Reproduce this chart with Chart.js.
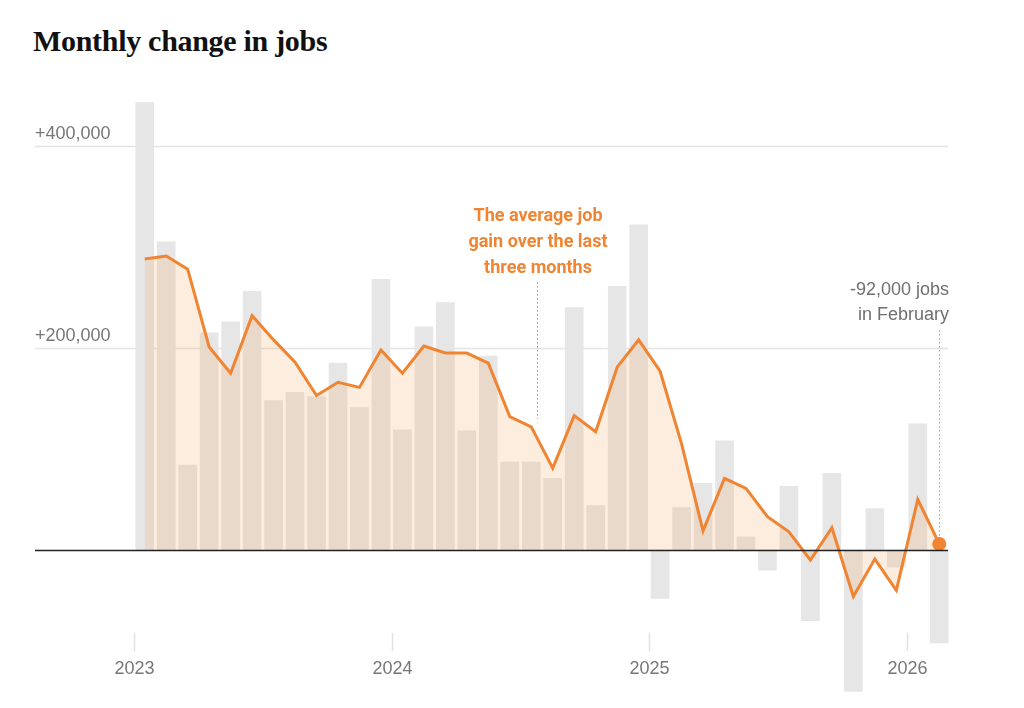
<!DOCTYPE html>
<html><head><meta charset="utf-8">
<script src="https://cdn.jsdelivr.net/npm/chart.js@4"></script>
<style>
html,body{margin:0;padding:0;background:#fff;}
#wrap{position:relative;width:1024px;height:708px;}
#title{position:absolute;left:33px;top:24px;font:bold 30px "Liberation Serif",serif;color:#111;letter-spacing:-0.3px;}
canvas{position:absolute;left:0;top:0;}
</style></head><body>
<div id="wrap"><div id="title">Monthly change in jobs</div><canvas id="c" width="1024" height="708"></canvas></div>
<script>
const months = ["Jan 2023","Feb 2023","Mar 2023","Apr 2023","May 2023","Jun 2023","Jul 2023","Aug 2023","Sep 2023","Oct 2023","Nov 2023","Dec 2023",
"Jan 2024","Feb 2024","Mar 2024","Apr 2024","May 2024","Jun 2024","Jul 2024","Aug 2024","Sep 2024","Oct 2024","Nov 2024","Dec 2024",
"Jan 2025","Feb 2025","Mar 2025","Apr 2025","May 2025","Jun 2025","Jul 2025","Aug 2025","Sep 2025","Oct 2025","Nov 2025","Dec 2025",
"Jan 2026","Feb 2026"];
const monthlyChange = [443000,305000,84000,215000,226000,256000,148000,156000,152000,185000,141000,268000,
119000,221000,245000,118000,192000,87000,87000,71000,240000,44000,261000,322000,
-48000,42000,66000,108000,13000,-20000,63000,-70000,76000,-140000,41000,-17000,125000,-92000];
const threeMonthAvg = [288000,291000,278000,201000,175000,232000,208000,186000,153000,166000,161000,198000,
175000,202000,195000,195000,185000,132000,122000,81000,133000,117000,181000,208000,
177000,105000,19000,71000,61000,33000,18000,-10000,22000,-46000,-9000,-40000,50000,6000];
const yTicks = [200000,400000];
const yTickLabels = ["+200,000","+400,000"];
const xTickPos = [-0.5,11.5,23.5,35.5];
const xTickLabels = ["2023","2024","2025","2026"];

const deco = {
  id:'deco',
  beforeDatasetsDraw(ch){
    const c=ch.ctx, y=ch.scales.y, x=ch.scales.x;
    c.save();
    c.strokeStyle='#e4e4e4'; c.lineWidth=1.5;
    yTicks.forEach((v,i)=>{const p=Math.round(y.getPixelForValue(v))+0.5;
      c.beginPath();c.moveTo(35,p);c.lineTo(948,p);c.stroke();
      c.fillStyle='#777';c.font='18px "Liberation Sans",Arial';c.textAlign='left';c.textBaseline='alphabetic';
      c.fillText(yTickLabels[i],35,p-8);});
    xTickPos.forEach((v,i)=>{const p=Math.round(x.getPixelForValue(v))+0.5;
      c.strokeStyle='#e0e0e0';c.beginPath();c.moveTo(p,633);c.lineTo(p,651);c.stroke();
      c.fillStyle='#777';c.font='18px "Liberation Sans",Arial';c.textAlign='center';
      c.fillText(xTickLabels[i],p,674);});
    c.restore();
  },
  afterDatasetsDraw(ch){
    const c=ch.ctx, y=ch.scales.y, x=ch.scales.x;
    c.save();
    const z=Math.round(y.getPixelForValue(0))+0.5;
    c.strokeStyle='#222';c.lineWidth=1.3;c.beginPath();c.moveTo(35,z);c.lineTo(948,z);c.stroke();
    c.setLineDash([1.5,2.5]);c.strokeStyle='#999';c.lineWidth=1;
    const ax=Math.round(x.getPixelForValue(18.25))+0.5;
    c.beginPath();c.moveTo(ax,282);c.lineTo(ax,y.getPixelForValue(threeMonthAvg[18])-8);c.stroke();
    const bx=Math.round(x.getPixelForValue(37))+0.5;
    c.beginPath();c.moveTo(bx,330);c.lineTo(bx,y.getPixelForValue(threeMonthAvg[37])-8);c.stroke();
    c.setLineDash([]);
    c.fillStyle='#ef8532';c.font='bold 18px "Roboto","Liberation Sans",Arial';c.textAlign='center';
    ["The average job","gain over the last","three months"].forEach((t,i)=>c.fillText(t,538,221+i*26));
    c.fillStyle='#6f6f6f';c.font='18px "Liberation Sans",Arial';c.textAlign='right';
    c.fillText("-92,000 jobs",949,295);c.fillText("in February",949,320);
    c.restore();
  }
};

new Chart(document.getElementById('c'),{
  data:{datasets:[
    {type:'bar',data:monthlyChange.map((v,i)=>({x:i,y:v})),backgroundColor:'#e6e6e6',barThickness:18,order:2},
    {type:'line',data:threeMonthAvg.map((v,i)=>({x:i,y:v})),borderColor:'#ef8532',borderWidth:3,
     fill:'origin',backgroundColor:'rgba(246,165,90,0.2)',tension:0,order:1,
     pointRadius:threeMonthAvg.map((v,i)=>i===threeMonthAvg.length-1?7:0),
     pointBackgroundColor:'#ef8532',pointBorderWidth:0}
  ]},
  options:{responsive:false,animation:false,
    layout:{padding:{left:134,right:74,top:100,bottom:8}},
    plugins:{legend:{display:false},tooltip:{enabled:false}},
    scales:{x:{type:'linear',offset:false,min:-0.5,max:37.5,display:false},
            y:{min:-148500,max:445500,display:false}}},
  plugins:[deco]
});
</script></body></html>
